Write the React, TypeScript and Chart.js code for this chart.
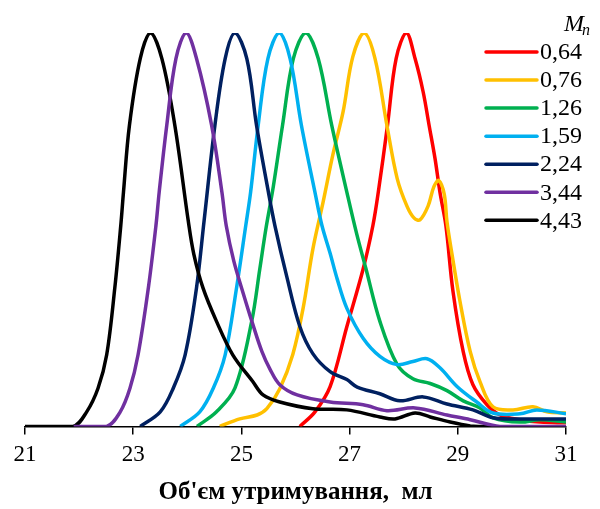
import React, { useEffect, useRef } from "react";
import { Chart, registerables } from "chart.js";

Chart.register(...registerables);

// Legend labels (M_n values) and colours
const seriesLabels = ["0,64", "0,76", "1,26", "1,59", "2,24", "3,44", "4,43"];
const seriesColors = ["#FF0000", "#FFC000", "#00B050", "#00B0F0", "#002060", "#7030A0", "#000000"];

// X axis ticks
const xTicks = [21, 23, 25, 27, 29, 31];
const xTitle = "Об'єм утримування,  мл";

// Series data (retention volume, normalized intensity)
const redX = [26.08, 26.36, 26.64, 26.95, 27.25, 27.43, 27.53, 27.70, 27.86, 28.05, 28.21, 28.36, 28.47, 28.58, 28.67, 28.78, 28.91, 29.10, 29.28, 29.54, 29.78, 30.15, 30.52, 31.0];
const redY = [0, 0.037, 0.101, 0.254, 0.40, 0.51, 0.595, 0.765, 0.935, 1, 0.935, 0.85, 0.765, 0.68, 0.595, 0.51, 0.344, 0.19, 0.106, 0.055, 0.029, 0.017, 0.011, 0.009];

const yellowX = [24.6, 24.97, 25.29, 25.47, 25.71, 25.95, 26.14, 26.32, 26.51, 26.69, 26.88, 27.06, 27.27, 27.47, 27.69, 27.88, 28.06, 28.19, 28.30, 28.45, 28.56, 28.65, 28.75, 28.80, 28.89, 29.04, 29.23, 29.41, 29.65, 30.02, 30.39, 30.65, 31.0];
const yellowY = [0, 0.019, 0.029, 0.045, 0.096, 0.183, 0.30, 0.45, 0.57, 0.69, 0.80, 0.94, 1, 0.935, 0.765, 0.63, 0.56, 0.53, 0.525, 0.56, 0.61, 0.625, 0.59, 0.52, 0.44, 0.318, 0.19, 0.114, 0.05, 0.042, 0.05, 0.037, 0.034];

const greenX = [24.18, 24.54, 24.88, 25.19, 25.34, 25.45, 25.59, 25.76, 25.96, 26.19, 26.42, 26.67, 26.95, 27.13, 27.30, 27.56, 27.88, 28.17, 28.49, 28.80, 29.10, 29.41, 29.65, 30.15, 30.52, 31.0];
const greenY = [0, 0.037, 0.097, 0.267, 0.40, 0.50, 0.61, 0.765, 0.935, 1, 0.935, 0.765, 0.595, 0.49, 0.402, 0.267, 0.157, 0.121, 0.109, 0.091, 0.065, 0.047, 0.022, 0.011, 0.017, 0.011];

const blueX = [23.87, 24.23, 24.48, 24.70, 24.91, 25.08, 25.17, 25.31, 25.49, 25.70, 25.90, 26.11, 26.36, 26.49, 26.64, 26.77, 26.95, 27.25, 27.56, 27.88, 28.17, 28.43, 28.67, 28.99, 29.35, 29.65, 30.15, 30.46, 31.0];
const blueY = [0, 0.037, 0.097, 0.182, 0.352, 0.51, 0.595, 0.765, 0.935, 1, 0.935, 0.765, 0.595, 0.51, 0.44, 0.375, 0.30, 0.224, 0.178, 0.157, 0.165, 0.172, 0.149, 0.101, 0.062, 0.034, 0.032, 0.042, 0.032];

const navyX = [23.13, 23.50, 23.74, 23.96, 24.17, 24.31, 24.51, 24.70, 24.88, 25.10, 25.28, 25.50, 25.62, 25.84, 26.08, 26.32, 26.64, 26.95, 27.14, 27.56, 27.93, 28.36, 28.80, 29.28, 29.65, 30.02, 31.0];
const navyY = [0, 0.037, 0.097, 0.182, 0.352, 0.522, 0.765, 0.935, 1, 0.935, 0.765, 0.595, 0.51, 0.38, 0.254, 0.185, 0.139, 0.119, 0.10, 0.083, 0.065, 0.075, 0.057, 0.042, 0.022, 0.019, 0.019];

const purpleX = [21.9, 22.51, 22.76, 22.94, 23.09, 23.28, 23.42, 23.48, 23.62, 23.79, 23.98, 24.17, 24.45, 24.64, 24.72, 24.86, 25.03, 25.21, 25.38, 25.53, 25.71, 26.03, 26.64, 27.25, 27.69, 28.21, 28.80, 29.23, 29.60, 29.78, 31.0];
const purpleY = [0, 0, 0.037, 0.097, 0.182, 0.352, 0.51, 0.595, 0.765, 0.935, 1, 0.935, 0.765, 0.595, 0.51, 0.42, 0.34, 0.26, 0.19, 0.145, 0.106, 0.080, 0.062, 0.055, 0.04, 0.047, 0.029, 0.017, 0.004, 0, 0];

const blackX = [21.0, 21.89, 22.14, 22.35, 22.51, 22.66, 22.77, 22.82, 22.93, 23.13, 23.32, 23.53, 23.77, 24.02, 24.12, 24.29, 24.54, 24.84, 25.21, 25.40, 25.71, 26.32, 26.95, 27.56, 27.84, 28.21, 28.49, 28.86, 29.23, 29.41, 29.7];
const blackY = [0, 0, 0.037, 0.097, 0.182, 0.352, 0.51, 0.595, 0.765, 0.935, 1, 0.935, 0.765, 0.52, 0.438, 0.352, 0.267, 0.182, 0.114, 0.08, 0.062, 0.045, 0.042, 0.024, 0.019, 0.034, 0.024, 0.011, 0.001, 0, 0];

const seriesX = [redX, yellowX, greenX, blueX, navyX, purpleX, blackX];
const seriesY = [redY, yellowY, greenY, blueY, navyY, purpleY, blackY];
// drawing order: lower is drawn on top
const seriesOrder = [6, 5, 4, 3, 2, 0, 1];

const SERIF = '"Liberation Serif", "Times New Roman", serif';

const legendPlugin = {
  id: "customLegend",
  afterDraw(chart: any) {
    const ctx = chart.ctx as CanvasRenderingContext2D;
    ctx.save();
    ctx.fillStyle = "#000";
    ctx.textBaseline = "alphabetic";
    ctx.textAlign = "left";
    ctx.font = `italic 24px ${SERIF}`;
    ctx.fillText("M", 564, 31);
    ctx.font = `italic 16px ${SERIF}`;
    ctx.fillText("n", 582, 35);
    ctx.font = `24px ${SERIF}`;
    ctx.textBaseline = "middle";
    seriesLabels.forEach((lab, i) => {
      const y = 52 + i * 28.05;
      ctx.strokeStyle = seriesColors[i];
      ctx.lineWidth = 3.5;
      ctx.lineCap = "round";
      ctx.beginPath();
      ctx.moveTo(486, y);
      ctx.lineTo(537, y);
      ctx.stroke();
      ctx.fillText(lab, 540, y + 1);
    });
    ctx.restore();
  },
};

export default function App() {
  const ref = useRef<HTMLCanvasElement | null>(null);
  useEffect(() => {
    if (!ref.current) return;
    const datasets = seriesLabels.map((lab, i) => ({
      label: lab,
      data: seriesX[i].map((x, j) => ({ x, y: seriesY[i][j] })),
      borderColor: seriesColors[i],
      backgroundColor: seriesColors[i],
      borderWidth: 3.5,
      pointRadius: 0,
      fill: false,
      tension: 0.35,
      order: seriesOrder[i],
    }));
    const chart = new Chart(ref.current, {
      type: "line",
      data: { datasets },
      options: {
        animation: false,
        responsive: true,
        maintainAspectRatio: false,
        layout: { padding: { left: 25, right: 34, top: 33, bottom: 1 } },
        plugins: { legend: { display: false }, tooltip: { enabled: false } },
        scales: {
          x: {
            type: "linear",
            min: 21,
            max: 31,
            afterBuildTicks: (axis: any) => {
              axis.ticks = xTicks.map((v) => ({ value: v }));
            },
            ticks: {
              color: "#000",
              padding: 7,
              font: { family: SERIF, size: 23 },
            },
            grid: {
              display: true,
              drawOnChartArea: false,
              drawTicks: true,
              tickLength: 8,
              color: "#000",
              lineWidth: 1.5,
            },
            border: { display: true, color: "#000", width: 1.5 },
            title: {
              display: true,
              text: xTitle,
              color: "#000",
              font: { family: SERIF, size: 25, weight: "bold" },
              padding: { top: 2, bottom: 0 },
            },
          },
          y: { display: false, min: 0, max: 1 },
        },
      },
      plugins: [legendPlugin],
    });
    return () => chart.destroy();
  }, []);
  return (
    <div style={{ position: "fixed", left: 0, top: 0, width: 600, height: 509, background: "#fff" }}>
      <canvas ref={ref} />
    </div>
  );
}
